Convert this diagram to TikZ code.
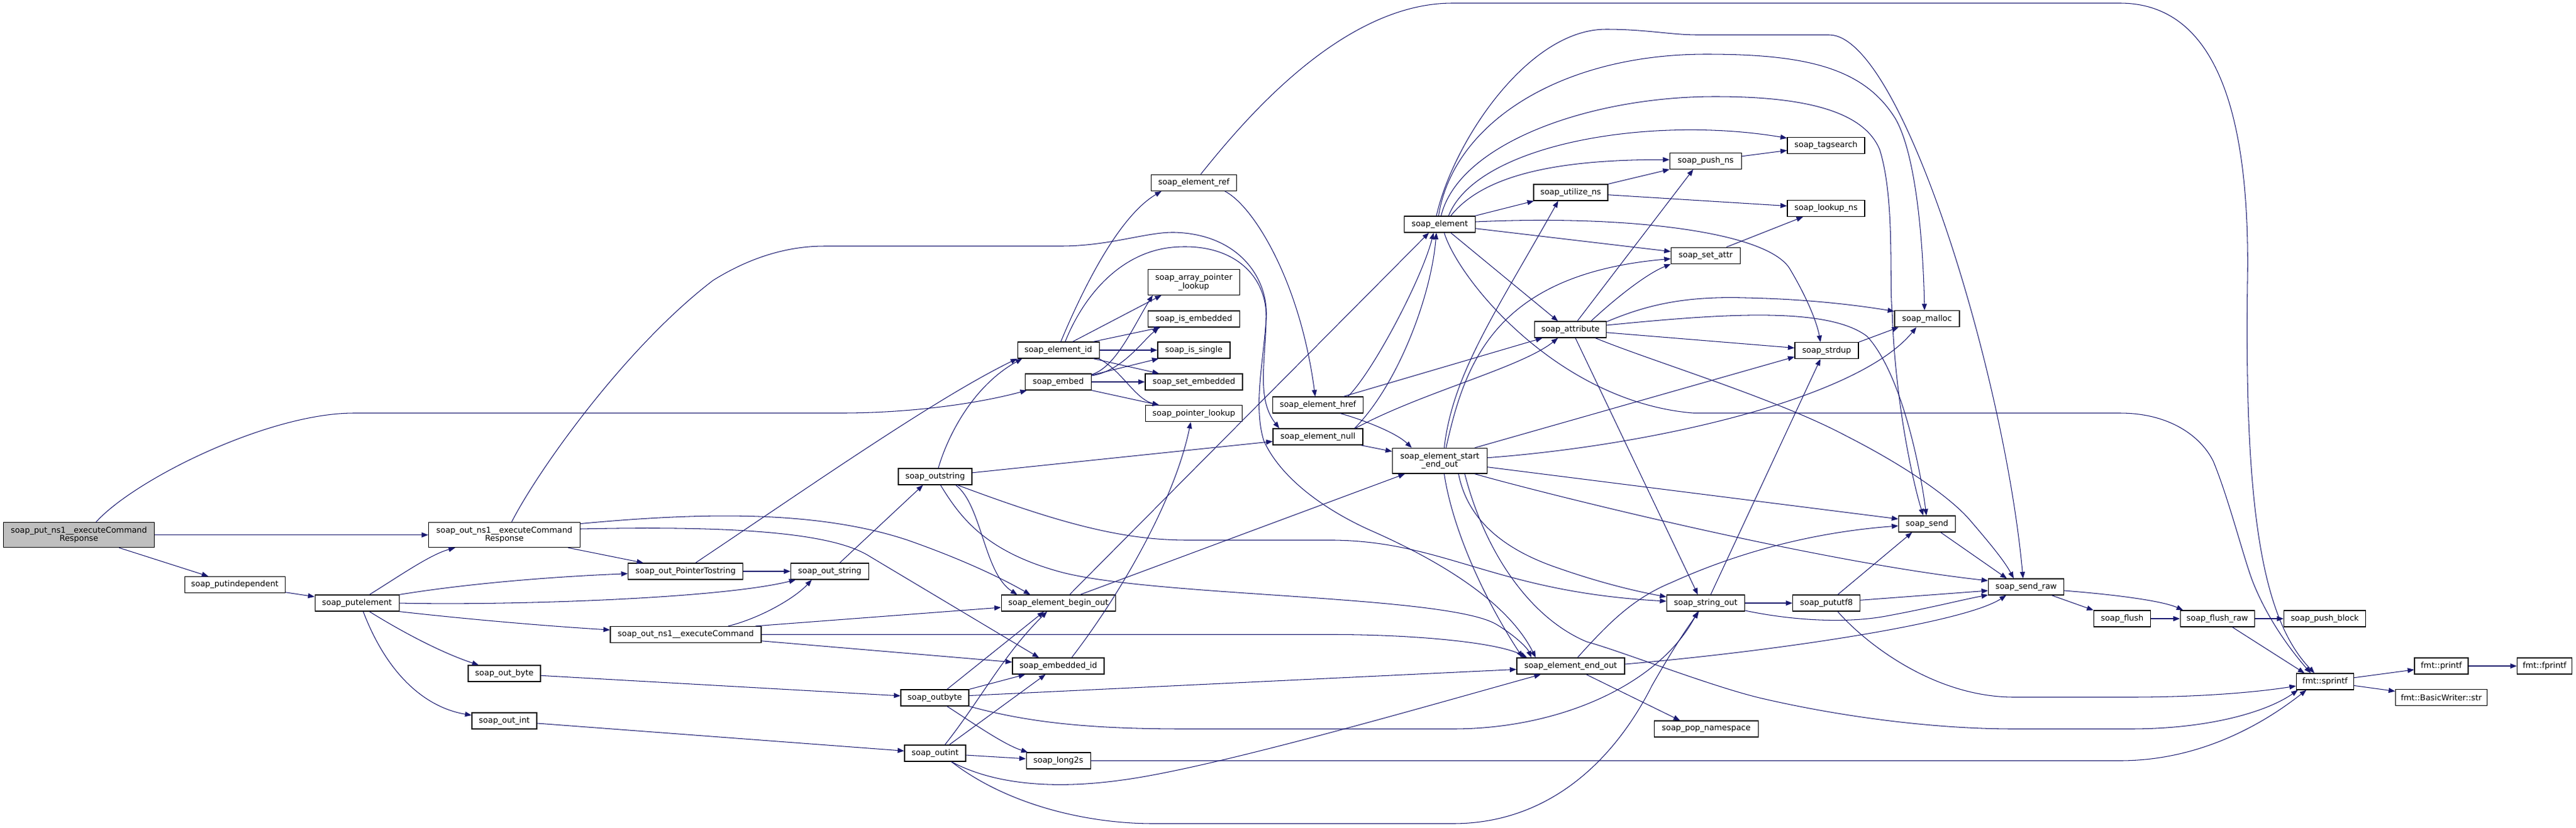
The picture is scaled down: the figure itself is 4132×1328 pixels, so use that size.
\documentclass[tikz,border=0pt]{standalone}
\usepackage{fontspec}
\usetikzlibrary{arrows.meta}
\newfontfamily\dxfam{DejaVu Sans}
\definecolor{edgeblue}{HTML}{191970}
\definecolor{rootgray}{HTML}{BFBFBF}
\tikzset{
  dxbox/.style={draw=black, line width=1.2pt, fill=white, inner sep=0pt, minimum height=26pt, align=center, font={\dxfam\fontsize{12.9}{13.6}\selectfont}},
  dxtwo/.style={dxbox, minimum height=40pt},
  bw/.style={minimum width=#1pt},
  edg/.style={draw=edgeblue, line width=1.05pt, -{Triangle[length=10.5pt,width=8pt]}},
}
\begin{document}
\begin{tikzpicture}[x=1pt,y=-1pt]
\useasboundingbox (0,0) rectangle (4132,1328);
% nodes
\node[dxtwo, bw=242, fill=rootgray] (put) at (126.6,858.6) {soap\_put\_ns1\_\_executeCommand\\Response};
\node[dxbox, bw=161] (pind) at (376.7,938.5) {soap\_putindependent};
\node[dxbox, bw=135] (pel) at (572.6,968) {soap\_putelement};
\node[dxtwo, bw=243] (oresp) at (809,858.6) {soap\_out\_ns1\_\_executeCommand\\Response};
\node[dxbox, bw=184] (optr) at (1099.6,917) {soap\_out\_PointerTostring};
\node[dxbox, bw=242] (ocmd) at (1100,1018.5) {soap\_out\_ns1\_\_executeCommand};
\node[dxbox, bw=116] (obyte) at (809,1081) {soap\_out\_byte};
\node[dxbox, bw=104] (oint) at (809,1157) {soap\_out\_int};
\node[dxbox, bw=125] (ostr) at (1331,917) {soap\_out\_string};
\node[dxbox, bw=118] (outstr) at (1500,765) {soap\_outstring};
\node[dxbox, bw=131] (eid) at (1697.6,562) {soap\_element\_id};
\node[dxbox, bw=106] (embed) at (1697.6,613) {soap\_embed};
\node[dxtwo, bw=147, minimum height=40.6pt] (apl) at (1915,453) {soap\_array\_pointer\\\_lookup};
\node[dxbox, bw=147] (isemb) at (1915,512) {soap\_is\_embedded};
\node[dxbox, bw=116] (issingle) at (1915,562) {soap\_is\_single};
\node[dxbox, bw=156] (setemb) at (1915,613) {soap\_set\_embedded};
\node[dxbox, bw=155] (ptrl) at (1915,663.7) {soap\_pointer\_lookup};
\node[dxbox, bw=137] (eref) at (1915,293.3) {soap\_element\_ref};
\node[dxbox, bw=145] (href) at (2114,650) {soap\_element\_href};
\node[dxbox, bw=144] (enull) at (2114,701) {soap\_element\_null};
\node[dxbox, bw=183] (begin) at (1697.6,968) {soap\_element\_begin\_out};
\node[dxbox, bw=147] (embid) at (1697.5,1069) {soap\_embedded\_id};
\node[dxbox, bw=109] (outbyte) at (1499.5,1120) {soap\_outbyte};
\node[dxbox, bw=98] (outint) at (1500,1209) {soap\_outint};
\node[dxbox, bw=103] (long2s) at (1697.6,1221) {soap\_long2s};
\node[dxbox, bw=114] (sel) at (2309.5,360) {soap\_element};
\node[dxbox, bw=119] (utz) at (2519.4,309) {soap\_utilize\_ns};
\node[dxbox, bw=115] (pushns) at (2736,258.3) {soap\_push\_ns};
\node[dxbox, bw=124] (tags) at (2929,233.3) {soap\_tagsearch};
\node[dxbox, bw=124] (lookns) at (2929,334.5) {soap\_lookup\_ns};
\node[dxbox, bw=111] (setattr) at (2736,410.3) {soap\_set\_attr};
\node[dxtwo, bw=152, minimum height=40.7pt] (seo) at (2309.5,739.7) {soap\_element\_start\\\_end\_out};
\node[dxbox, bw=115] (attr) at (2519,529) {soap\_attribute};
\node[dxbox, bw=102] (strdup) at (2930,562.7) {soap\_strdup};
\node[dxbox, bw=104] (malloc) at (3091,511.7) {soap\_malloc};
\node[dxbox, bw=91] (send) at (3091,841) {soap\_send};
\node[dxbox, bw=125] (strout) at (2736,968) {soap\_string\_out};
\node[dxbox, bw=108] (utf8) at (2929.7,968) {soap\_pututf8};
\node[dxbox, bw=173] (eeo) at (2519.4,1069) {soap\_element\_end\_out};
\node[dxbox, bw=167] (popns) at (2736.8,1170) {soap\_pop\_namespace};
\node[dxbox, bw=121] (sraw) at (3250,942) {soap\_send\_raw};
\node[dxbox, bw=91] (flush) at (3404,993) {soap\_flush};
\node[dxbox, bw=119] (flraw) at (3556.7,993) {soap\_flush\_raw};
\node[dxbox, bw=131] (pblock) at (3729,993) {soap\_push\_block};
\node[dxbox, bw=92] (spr) at (3729.4,1094) {fmt::sprintf};
\node[dxbox, bw=86] (printf) at (3916,1069) {fmt::printf};
\node[dxbox, bw=88] (fprintf) at (4081.6,1069) {fmt::fprintf};
\node[dxbox, bw=147] (bws) at (3916,1119.7) {fmt::BasicWriter::str};
% edges
\draw[edg] (put) -- (oresp);
\draw[edg] (put) -- (pind);
\draw[edg] ([xshift=27.4pt]put.north) .. controls (215,770) and (430,663) .. (568,663) -- (1350,663) .. controls (1450,663) and (1560,650) .. (embed);
\draw[edg] (pind) -- (pel);
\draw[edg] ([xshift=20pt]pel.north) .. controls (640,925) and (690,890) .. ([xshift=-79pt]oresp.south);
\draw[edg] (pel.north east) .. controls (760,935) and (900,925) .. (optr);
\draw[edg] (pel.east) .. controls (800,972) and (1150,962) .. (ostr);
\draw[edg] (pel.south east) .. controls (760,995) and (880,1005) .. (ocmd);
\draw[edg] ([xshift=20pt]pel.south) .. controls (630,1005) and (700,1045) .. (obyte);
\draw[edg] ([xshift=10pt]pel.south) .. controls (620,1080) and (680,1135) .. (oint);
\draw[edg] (oresp) -- (optr);
\draw[edg] ([yshift=-2.5pt]oresp.north east) .. controls (1100,825) and (1300,815) .. (1456,867) .. controls (1550,900) and (1610,930) .. ([xshift=-45pt]begin.north);
\draw[edg] ([yshift=9.6pt]oresp.east) .. controls (1200,843) and (1340,858) .. (1395,893) -- ([xshift=-31pt]embid.north);
\draw[edg] ([xshift=11.6pt]oresp.north) .. controls (860,760) and (1000,560) .. (1143.8,450) .. controls (1200,415) and (1260,395) .. (1322.7,395) -- (1701.5,395) .. controls (1780,395) and (1840,372) .. (1884,373) .. controls (1990,376) and (2035,450) .. (2031,510) .. controls (2027,580) and (2010,650) .. (2027,707) .. controls (2060,780) and (2150,830) .. (2200,852) .. controls (2320,905) and (2420,970) .. ([xshift=31pt]eeo.north west);
\draw[edg] ([xshift=-10pt]ocmd.north east) -- ([yshift=-7pt]begin.west);
\draw[edg] ([xshift=68pt]ocmd.north) .. controls (1220,992) and (1275,960) .. ([xshift=-29pt]ostr.south);
\draw[edg] (ocmd.east) -- (2140,1018.5) .. controls (2260,1018.5) and (2400,1030) .. ([xshift=17pt]eeo.north west);
\draw[edg] (ocmd) -- (embid);
\draw[edg] (optr) -- (ostr);
\draw[edg] ([xshift=16pt]optr.north) .. controls (1300,780) and (1500,640) .. (eid.south west);
\draw[edg] ([xshift=16pt]ostr.north) -- ([xshift=-19.5pt]outstr.south);
\draw[edg] ([xshift=5pt]outstr.north) .. controls (1520,700) and (1560,620) .. ([xshift=8pt]eid.south west);
\draw[edg] (outstr) -- (enull);
\draw[edg] ([xshift=33pt]outstr.south) .. controls (1575,810) and (1578,920) .. ([xshift=-66pt]begin.north);
\draw[edg] ([xshift=8.6pt]outstr.south) .. controls (1540,830) and (1580,885) .. (1701,918) .. controls (1850,958) and (2320,955) .. (2400,1002) .. controls (2430,1020) and (2450,1040) .. ([xshift=24pt]eeo.north west);
\draw[edg] ([xshift=36pt]outstr.south) .. controls (1700,840) and (1800,867) .. (1905,867) -- (2141,867) .. controls (2320,870) and (2400,950) .. ([yshift=3pt]strout.west);
\draw[edg] ([xshift=23pt]eid.north) -- ([xshift=-52pt]apl.south);
\draw[edg] ([xshift=56pt]eid.north) -- ([xshift=-53.6pt]isemb.south);
\draw[edg] (eid) -- (issingle);
\draw[edg] ([xshift=56pt]eid.south) -- ([xshift=-56pt]setemb.north);
\draw[edg] ([xshift=65pt]eid.south) .. controls (1800,595) and (1820,640) .. ([xshift=-56pt]ptrl.north);
\draw[edg] ([xshift=4pt]eid.north) .. controls (1730,480) and (1790,350) .. ([xshift=-52pt]eref.south);
\draw[edg] ([xshift=11pt]eid.north) .. controls (1740,470) and (1800,405) .. (1880,397) .. controls (1975,388) and (2032,440) .. (2031,510) .. controls (2030,580) and (2015,640) .. ([xshift=-62pt]enull.north);
\draw[edg] ([yshift=12pt]embed.east) .. controls (1790,590) and (1820,520) .. ([xshift=-66pt]apl.south);
\draw[edg] ([yshift=10pt]embed.east) .. controls (1800,595) and (1830,550) .. ([xshift=-56pt]isemb.south);
\draw[edg] ([yshift=11pt]embed.east) -- ([xshift=2pt]issingle.south west);
\draw[edg] (embed) -- (setemb);
\draw[edg] (embed.south east) -- ([xshift=-56pt]ptrl.north);
\draw[edg] ([xshift=49.6pt]eref.south) .. controls (2010,330) and (2085,450) .. ([xshift=-4.4pt]href.north);
\draw[edg] ([xshift=11pt]eref.north) .. controls (1990,200) and (2150,5) .. (2330,5) -- (3400,5) .. controls (3540,5) and (3610,150) .. (3605,450) .. controls (3600,800) and (3625,990) .. ([xshift=-17pt]spr.north);
\draw[edg] ([xshift=48pt]href.north) .. controls (2200,600) and (2280,450) .. ([xshift=-10pt]sel.south);
\draw[edg] ([xshift=41pt]href.north) -- ([xshift=-45pt]attr.south);
\draw[edg] ([xshift=36pt]href.south) .. controls (2190,675) and (2240,695) .. ([xshift=-45pt]seo.north);
\draw[edg] ([xshift=58.8pt]enull.north) .. controls (2240,620) and (2295,480) .. ([xshift=-5.5pt]sel.south);
\draw[edg] ([xshift=60pt]enull.north) .. controls (2280,630) and (2440,590) .. ([xshift=-20pt]attr.south);
\draw[edg] (enull) -- (seo);
\draw[edg] ([xshift=18pt]begin.north) -- ([xshift=-17.5pt]sel.south);
\draw[edg] ([xshift=35pt]begin.north) -- ([xshift=-56pt]seo.south);
\draw[edg] ([xshift=21.5pt]embid.north) .. controls (1800,950) and (1885,800) .. ([xshift=-5pt]ptrl.south);
\draw[edg] (obyte) -- (outbyte);
\draw[edg] (oint) -- (outint);
\draw[edg] ([xshift=19.5pt]outbyte.north) -- ([xshift=-23pt]begin.south);
\draw[edg] (outbyte.north east) -- ([xshift=21pt]embid.south west);
\draw[edg] ([yshift=3.5pt]outbyte.east) -- ([yshift=-5.4pt]eeo.west);
\draw[edg] (outbyte.south east) .. controls (1650,1160) and (1750,1170) .. (1900,1170) -- (2330,1170) .. controls (2500,1170) and (2660,1100) .. ([xshift=-12.6pt]strout.south);
\draw[edg] ([xshift=19.5pt]outbyte.south) .. controls (1560,1160) and (1610,1195) .. ([xshift=3pt]long2s.north west);
\draw[edg] ([xshift=15.6pt]outint.north) .. controls (1575,1120) and (1610,1050) .. ([xshift=-18pt]begin.south);
\draw[edg] ([xshift=22.6pt]outint.north) -- ([xshift=-20.5pt]embid.south);
\draw[edg] (outint) -- (long2s);
\draw[edg] ([xshift=26pt]outint.south) .. controls (1600,1262) and (1700,1266) .. (1800,1252) .. controls (1950,1232) and (2300,1130) .. ([xshift=-48pt]eeo.south);
\draw[edg] ([xshift=26pt]outint.south) .. controls (1620,1295) and (1750,1322) .. (1850,1322) -- (2330,1322) .. controls (2500,1322) and (2600,1200) .. (2650,1100) .. controls (2690,1030) and (2712,1000) .. ([xshift=-11pt]strout.south);
\draw[edg] (long2s.east) -- (3400,1221) .. controls (3520,1221) and (3620,1170) .. ([xshift=-30pt]spr.south);
\draw[edg] ([xshift=-1pt]sel.north east) -- ([xshift=1pt]utz.south west);
\draw[edg] ([xshift=17.5pt]sel.north) .. controls (2380,280) and (2500,256) .. ([yshift=2pt]pushns.west);
\draw[edg] ([xshift=14pt]sel.north) .. controls (2370,230) and (2650,185) .. ([yshift=-2pt]tags.north west);
\draw[edg] ([xshift=-2pt]sel.north) .. controls (2330,200) and (2500,87) .. (2737,87) .. controls (2900,87) and (2990,110) .. (3040,190) .. controls (3075,250) and (3085,400) .. ([xshift=-4pt]malloc.north);
\draw[edg] ([xshift=2pt]sel.north) .. controls (2340,230) and (2550,155) .. (2751,155) .. controls (2900,155) and (2990,180) .. (3015,240) .. controls (3040,320) and (3030,450) .. (3035,500) .. controls (3040,650) and (3070,780) .. ([xshift=-6pt]send.north);
\draw[edg] ([xshift=-5.5pt]sel.north) .. controls (2330,230) and (2450,47) .. (2576,47) .. controls (2640,47) and (2680,56) .. (2723,56) -- (2934,56) .. controls (3050,56) and (3215,600) .. ([xshift=-5pt]sraw.north);
\draw[edg] ([yshift=4pt]sel.east) .. controls (2600,345) and (2830,370) .. (2870,430) .. controls (2900,480) and (2915,520) .. ([xshift=-10pt]strdup.north);
\draw[edg] (sel) -- (setattr);
\draw[edg] ([xshift=17.5pt]sel.south) -- ([xshift=-20pt]attr.north);
\draw[edg] ([xshift=7pt]sel.south) .. controls (2340,450) and (2500,645) .. (2716,663) -- (3400,663) .. controls (3480,663) and (3530,700) .. (3550,740) .. controls (3575,800) and (3600,900) .. (3614,935) .. controls (3640,1000) and (3680,1050) .. ([xshift=-23pt]spr.north);
\draw[edg] (utz.north east) -- (pushns.south west);
\draw[edg] (utz) -- (lookns);
\draw[edg] (pushns) -- (tags);
\draw[edg] ([xshift=33pt]setattr.north) -- ([xshift=-37pt]lookns.south);
\draw[edg] ([xshift=7pt]seo.north) .. controls (2330,600) and (2400,500) .. ([xshift=-20pt]utz.south);
\draw[edg] ([xshift=10pt]seo.north) .. controls (2350,580) and (2400,440) .. ([yshift=-5pt]setattr.west);
\draw[edg] ([xshift=56pt]seo.north) -- ([yshift=-10pt]strdup.west);
\draw[edg] ([yshift=5pt]seo.east) .. controls (2650,715) and (2980,640) .. ([xshift=-17pt]malloc.south);
\draw[edg] ([yshift=-10pt]seo.east) -- ([yshift=8pt]send.west);
\draw[edg] ([xshift=56pt]seo.south) .. controls (2450,785) and (2900,900) .. ([yshift=10pt]sraw.west);
\draw[edg] ([xshift=7pt]seo.south) .. controls (2330,850) and (2380,960) .. ([xshift=10pt]eeo.north west);
\draw[edg] ([xshift=30pt]seo.south) .. controls (2355,840) and (2420,885) .. (2500,912) .. controls (2580,940) and (2640,952) .. ([yshift=10pt]strout.west);
\draw[edg] ([xshift=40pt]seo.south) .. controls (2380,880) and (2450,990) .. (2545,1030) .. controls (2600,1045) and (2740,1100) .. (2822,1120) .. controls (2950,1150) and (3100,1170) .. (3231,1170) -- (3416,1170) .. controls (3550,1170) and (3640,1140) .. ([xshift=3pt]spr.south west);
\draw[edg] ([xshift=11pt]attr.north) -- ([xshift=-20pt]pushns.south);
\draw[edg] ([xshift=33pt]attr.north) .. controls (2590,480) and (2640,440) .. (setattr.south west);
\draw[edg] ([yshift=-1pt]attr.north east) .. controls (2640,490) and (2700,475) .. (2800,478) .. controls (2900,480) and (2980,490) .. ([yshift=12pt]malloc.west);
\draw[edg] ([yshift=7pt]attr.east) .. controls (2750,505) and (2930,490) .. (2995,540) .. controls (3050,600) and (3080,750) .. ([xshift=-1pt]send.north);
\draw[edg] (attr) -- (strdup);
\draw[edg] ([xshift=40pt]attr.south) .. controls (2650,580) and (2850,640) .. (2962,700) .. controls (3060,750) and (3130,800) .. (3160,835) .. controls (3190,870) and (3215,900) .. ([xshift=-20pt]sraw.north);
\draw[edg] ([xshift=8pt]attr.south) -- ([xshift=-12.6pt]strout.north);
\draw[edg] (strdup.north east) -- ([xshift=7pt]malloc.south west);
\draw[edg] (strout) -- (utf8);
\draw[edg] ([yshift=-12pt]strout.east) .. controls (2870,995) and (2960,1002) .. (3030,988) .. controls (3100,975) and (3150,962) .. ([yshift=-13pt]sraw.west);
\draw[edg] ([xshift=8pt]strout.north) -- ([xshift=-10pt]strdup.south);
\draw[edg] ([xshift=18pt]utf8.north) -- ([xshift=-24pt]send.south);
\draw[edg] ([yshift=4.7pt]utf8.east) -- ([yshift=-6pt]sraw.west);
\draw[edg] ([xshift=18pt]utf8.south) .. controls (2990,1030) and (3100,1119) .. (3231,1119) -- (3416,1119) .. controls (3550,1119) and (3640,1108) .. ([yshift=-7pt]spr.west);
\draw[edg] ([xshift=11pt]eeo.north) .. controls (2580,1000) and (2620,960) .. (2681,935) .. controls (2780,890) and (2900,855) .. ([yshift=-3pt]send.west);
\draw[edg] ([yshift=3pt]eeo.east) .. controls (2850,1045) and (3150,1000) .. ([xshift=-32pt]sraw.south);
\draw[edg] ([xshift=25pt]eeo.south) -- ([xshift=-42pt]popns.north);
\draw[edg] ([xshift=22pt]send.south) -- ([xshift=-31pt]sraw.north);
\draw[edg] ([xshift=41pt]sraw.south) -- (flush.north west);
\draw[edg] ([yshift=-6pt]sraw.east) .. controls (3400,955) and (3470,965) .. ([xshift=-55pt]flraw.north);
\draw[edg] (flush) -- (flraw);
\draw[edg] (flraw) -- (pblock);
\draw[edg] ([xshift=24pt]flraw.south) -- ([xshift=-33pt]spr.north);
\draw[edg] (spr) -- (printf);
\draw[edg] (spr) -- (bws);
\draw[edg] (printf) -- (fprintf);
\end{tikzpicture}
\end{document}
